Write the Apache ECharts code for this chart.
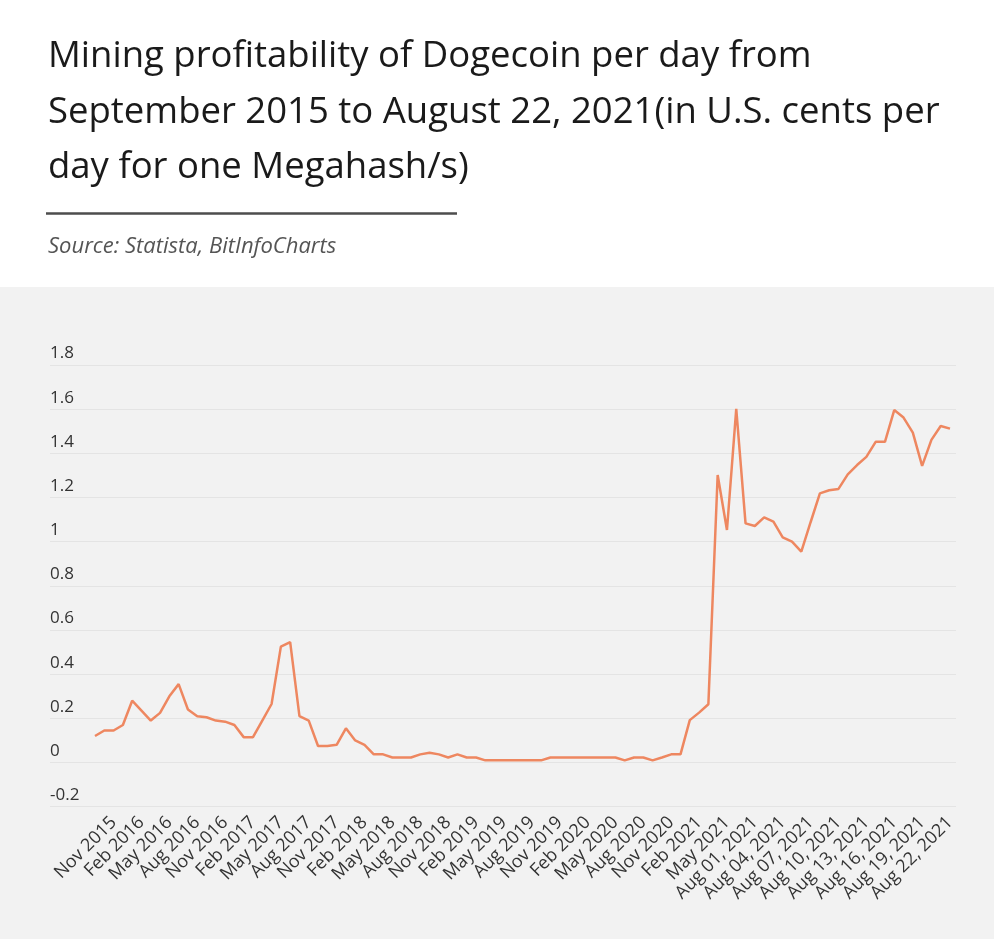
<!DOCTYPE html>
<html>
<head>
<meta charset="utf-8">
<script src="https://cdn.jsdelivr.net/npm/echarts@6/dist/echarts.min.js"></script>
<style>
html,body{margin:0;padding:0;background:#fff;}
#chart{width:994px;height:939px;}
</style>
</head>
<body>
<div id="chart"></div>
<script>
const categories = [
  "Sep 2015","Oct 2015","Nov 2015","Dec 2015",
  "Jan 2016","Feb 2016","Mar 2016","Apr 2016","May 2016","Jun 2016","Jul 2016","Aug 2016","Sep 2016","Oct 2016","Nov 2016","Dec 2016",
  "Jan 2017","Feb 2017","Mar 2017","Apr 2017","May 2017","Jun 2017","Jul 2017","Aug 2017","Sep 2017","Oct 2017","Nov 2017","Dec 2017",
  "Jan 2018","Feb 2018","Mar 2018","Apr 2018","May 2018","Jun 2018","Jul 2018","Aug 2018","Sep 2018","Oct 2018","Nov 2018","Dec 2018",
  "Jan 2019","Feb 2019","Mar 2019","Apr 2019","May 2019","Jun 2019","Jul 2019","Aug 2019","Sep 2019","Oct 2019","Nov 2019","Dec 2019",
  "Jan 2020","Feb 2020","Mar 2020","Apr 2020","May 2020","Jun 2020","Jul 2020","Aug 2020","Sep 2020","Oct 2020","Nov 2020","Dec 2020",
  "Jan 2021","Feb 2021","Mar 2021","Apr 2021","May 2021","Jun 2021","Jul 2021",
  "Aug 01, 2021","Aug 02, 2021","Aug 03, 2021","Aug 04, 2021","Aug 05, 2021","Aug 06, 2021","Aug 07, 2021","Aug 08, 2021",
  "Aug 09, 2021","Aug 10, 2021","Aug 11, 2021","Aug 12, 2021","Aug 13, 2021","Aug 14, 2021","Aug 15, 2021","Aug 16, 2021",
  "Aug 17, 2021","Aug 18, 2021","Aug 19, 2021","Aug 20, 2021","Aug 21, 2021","Aug 22, 2021"
];
const profitability = [
  0.12, 0.145, 0.145, 0.17,
  0.28, 0.235, 0.19, 0.225, 0.30, 0.355, 0.24, 0.21, 0.205, 0.19, 0.185, 0.17,
  0.115, 0.115, 0.19, 0.265, 0.525, 0.545, 0.21, 0.19, 0.075, 0.075, 0.08, 0.155,
  0.10, 0.08, 0.037, 0.037, 0.023, 0.023, 0.023, 0.037, 0.044, 0.037, 0.023, 0.037,
  0.023, 0.023, 0.01, 0.01, 0.01, 0.01, 0.01, 0.01, 0.01, 0.023, 0.023, 0.023,
  0.023, 0.023, 0.023, 0.023, 0.023, 0.01, 0.023, 0.023, 0.01, 0.023, 0.037, 0.037,
  0.192, 0.226, 0.264, 1.302, 1.053, 1.601, 1.083,
  1.071, 1.110, 1.091, 1.020, 1.000, 0.955, 1.088, 1.219,
  1.233, 1.239, 1.305, 1.347, 1.384, 1.452, 1.452, 1.596,
  1.562, 1.494, 1.343, 1.461, 1.524, 1.512
];
const titleText = "Mining profitability of Dogecoin per day from\nSeptember 2015 to August 22, 2021(in U.S. cents per\nday for one Megahash/s)";
const sourceText = "Source: Statista, BitInfoCharts";

const FONT = "'Open Sans', 'Noto Sans', sans-serif";
const chart = echarts.init(document.getElementById('chart'), null, {renderer: 'canvas'});
const gridTop = 365, gridBottom = 939 - 806.7;
chart.setOption({
  animation: false,
  backgroundColor: '#ffffff',
  textStyle: {fontFamily: FONT},
  title: [{
    text: titleText,
    left: 43, top: 24,
    textStyle: {fontFamily: FONT, fontSize: 36.5, fontWeight: 'normal', color: '#1a1a1a', lineHeight: 55.5}
  }, {
    text: sourceText,
    left: 43, top: 231,
    textStyle: {fontFamily: FONT, fontSize: 22, fontStyle: 'italic', fontWeight: 'normal', color: '#555555'}
  }],
  graphic: [{
    type: 'rect', z: -100, silent: true,
    shape: {x: 0, y: 287, width: 994, height: 652},
    style: {fill: '#f2f2f2'}
  }, {
    type: 'line', silent: true,
    shape: {x1: 46, y1: 213.5, x2: 457, y2: 213.5},
    style: {stroke: '#4d4d4d', lineWidth: 2.5}
  }],
  grid: [
    {left: 50, right: 38, top: gridTop, bottom: gridBottom},
    {left: 95, right: 44, top: gridTop, bottom: gridBottom}
  ],
  xAxis: [{
    gridIndex: 0, type: 'category', data: categories, show: false
  }, {
    gridIndex: 1, type: 'category', data: categories, boundaryGap: false,
    axisLine: {show: false}, axisTick: {show: false},
    axisLabel: {
      rotate: 45, fontSize: 18, color: '#333333', fontFamily: FONT, margin: 13,
      interval: function (i) { return i % 3 === 2; }
    }
  }],
  yAxis: [{
    gridIndex: 0, type: 'value', min: -0.2, max: 1.8, interval: 0.2,
    axisLine: {show: false}, axisTick: {show: false},
    splitLine: {show: true, lineStyle: {color: '#e4e4e4', width: 1}},
    axisLabel: {
      inside: true, margin: 0, verticalAlign: 'bottom', align: 'left',
      padding: [0, 0, 3, 0], fontSize: 17, color: '#333333', fontFamily: FONT
    }
  }, {
    gridIndex: 1, type: 'value', min: -0.2, max: 1.8, interval: 0.2, show: false,
    splitLine: {show: false}
  }],
  series: [{
    type: 'line', xAxisIndex: 1, yAxisIndex: 1, data: profitability,
    symbol: 'none', smooth: false,
    lineStyle: {color: '#ee8760', width: 2.5}
  }]
});
</script>
</body>
</html>
